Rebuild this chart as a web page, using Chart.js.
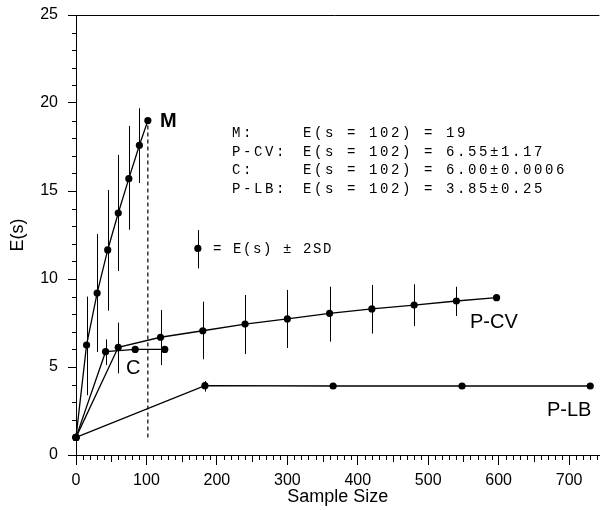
<!DOCTYPE html>
<html><head><meta charset="utf-8">
<script src="https://cdn.jsdelivr.net/npm/chart.js@4.4.1/dist/chart.umd.min.js"></script>
<style>html,body{margin:0;padding:0;background:#fff;}#wrap{width:603px;height:510px;}</style>
</head><body><div id="wrap"><canvas id="c" width="603" height="510"></canvas></div>
<script>
// ---- data ----
const mX  = [0, 15, 30, 45, 60, 75, 90, 102];
const mY  = [1, 6.25, 9.2, 11.65, 13.75, 15.7, 17.6, 19];
const mLo = [null, 3.4, 5.85, 8.2, 10.45, 12.8, 15.45, null];
const mHi = [null, 9.0, 12.55, 15.06, 17.05, 18.7, 19.7, null];

const pcvX  = [0, 60, 120, 180, 240, 300, 360, 420, 480, 540, 597];
const pcvY  = [1, 6.12, 6.69, 7.06, 7.44, 7.73, 8.05, 8.3, 8.52, 8.75, 8.94];
const pcvLo = [null, 4.64, 5.11, 5.44, 5.74, 6.08, 6.44, 6.9, 7.33, 7.9, null];
const pcvHi = [null, 7.52, 8.24, 8.71, 9.09, 9.38, 9.56, 9.66, 9.7, 9.56, null];

const cX  = [0, 42, 84, 126];
const cY  = [1, 5.87, 6.0, 6.0];
const cLo = [null, 5.11, null, null];
const cHi = [null, 6.57, null, null];

const plbX  = [0, 183, 365, 548, 730];
const plbY  = [1, 3.94, 3.92, 3.92, 3.92];
const plbLo = [null, 3.6, null, null, null];
const plbHi = [null, 4.2, null, null, null];

// legend sample (E(s) ± 2SD)
const keyX = [173], keyY = [11.74], keyLo = [10.6], keyHi = [12.78];

const xTicks = [0, 100, 200, 300, 400, 500, 600, 700];
const yTicks = [0, 5, 10, 15, 20, 25];

const summaryNames = ['M:', 'P-CV:', 'C:', 'P-LB:'];
const summaryTexts = ['E(s = 102) = 19', 'E(s = 102) = 6.55\u00b11.17', 'E(s = 102) = 6.00\u00b10.0006', 'E(s = 102) = 3.85\u00b10.25'];
const keyText = '= E(s) \u00b1 2SD';

// ---- helpers ----
const pts = (xs, ys) => xs.map((x, i) => ({x, y: ys[i]}));
const serie = (xs, ys, lo, hi, showLine) => ({
  data: pts(xs, ys), lo, hi,
  borderColor: '#000', backgroundColor: '#000', borderWidth: 1.3,
  pointRadius: 3.6, pointHoverRadius: 3.6, pointBorderWidth: 0,
  showLine, tension: 0, clip: false
});

const PLB = 'Liberation Sans, Arial, sans-serif';
const MONO = 'Liberation Mono, Courier New, monospace';

function monoText(ctx, s, x, y, pitch) {
  for (let i = 0; i < s.length; i++) ctx.fillText(s[i], x + i * pitch, y);
}

const extras = {
  id: 'extras',
  afterDatasetsDraw(chart) {
    const {ctx, chartArea: a, scales: {x, y}} = chart;
    ctx.save();
    ctx.strokeStyle = '#000'; ctx.lineWidth = 1;
    // error bars
    chart.data.datasets.forEach(ds => {
      if (!ds.lo) return;
      ds.data.forEach((p, i) => {
        if (ds.lo[i] == null) return;
        const px = Math.round(x.getPixelForValue(p.x)) + 0.5;
        ctx.beginPath();
        ctx.moveTo(px, y.getPixelForValue(ds.lo[i]));
        ctx.lineTo(px, y.getPixelForValue(ds.hi[i]));
        ctx.stroke();
      });
    });
    // top frame line
    ctx.beginPath();
    ctx.moveTo(a.left - 6, Math.round(a.top) + 0.5);
    ctx.lineTo(a.right, Math.round(a.top) + 0.5);
    ctx.stroke();
    // minor ticks y
    for (let v = 0; v <= 25; v++) {
      if (v % 5 === 0) continue;
      const py = Math.round(y.getPixelForValue(v)) + 0.5;
      ctx.beginPath(); ctx.moveTo(a.left - 4, py); ctx.lineTo(a.left, py); ctx.stroke();
    }
    // minor ticks x
    for (let v = 10; v < x.max; v += 10) {
      if (v % 100 === 0) continue;
      const px = Math.round(x.getPixelForValue(v)) + 0.5;
      const len = v % 50 === 0 ? 7 : 5;
      ctx.beginPath(); ctx.moveTo(px, a.bottom); ctx.lineTo(px, a.bottom + len); ctx.stroke();
    }
    // series labels
    ctx.fillStyle = '#000';
    ctx.textBaseline = 'middle'; ctx.textAlign = 'left';
    ctx.font = 'bold 20px ' + PLB;
    ctx.fillText('M', 160, 121);
    ctx.font = '20px ' + PLB;
    ctx.fillText('P-CV', 470, 322);
    ctx.fillText('C', 126, 368);
    ctx.fillText('P-LB', 547, 410);
    // summary block
    ctx.font = '14px ' + MONO;
    const rows = [133, 152, 170, 189];
    summaryNames.forEach((n, i) => monoText(ctx, n, 232, rows[i], 11));
    summaryTexts.forEach((t, i) => monoText(ctx, t, 303, rows[i], 11));
    monoText(ctx, keyText, 213, 249, 10);
    ctx.restore();
  }
};

new Chart(document.getElementById('c'), {
  type: 'line',
  data: {
    datasets: [
      serie(mX, mY, mLo, mHi, true),
      serie(pcvX, pcvY, pcvLo, pcvHi, true),
      serie(cX, cY, cLo, cHi, true),
      serie(plbX, plbY, plbLo, plbHi, true),
      serie(keyX, keyY, keyLo, keyHi, false),
      {
        data: [{x: mX[mX.length - 1], y: mY[0]}, {x: mX[mX.length - 1], y: mY[mY.length - 1]}],
        borderColor: '#000', borderWidth: 1.2, borderDash: [4, 3], pointRadius: 0, tension: 0, clip: false
      }
    ]
  },
  options: {
    responsive: false, animation: false, devicePixelRatio: 1,
    layout: {padding: {top: 15, right: 1, left: 0, bottom: 0}},
    plugins: {legend: {display: false}, tooltip: {enabled: false}},
    scales: {
      x: {
        type: 'linear', min: 0, max: 743,
        afterFit(s) { s.height = 55; s.paddingLeft = 0; s.paddingRight = 0; },
        afterBuildTicks(s) { s.ticks = xTicks.map(v => ({value: v})); },
        ticks: {font: {family: PLB, size: 16}, color: '#000', padding: 6, maxRotation: 0},
        grid: {drawOnChartArea: false, drawTicks: true, tickLength: 10, color: '#000', lineWidth: 1},
        border: {display: true, color: '#000', width: 1},
        title: {display: true, text: 'Sample Size', font: {family: PLB, size: 18}, color: '#000', padding: {top: 0, bottom: 2}}
      },
      y: {
        type: 'linear', min: 0, max: 25,
        afterFit(s) { s.width = 76; s.paddingTop = 0; s.paddingBottom = 0; },
        afterBuildTicks(s) { s.ticks = yTicks.map(v => ({value: v})); },
        ticks: {font: {family: PLB, size: 16}, color: '#000', padding: 10},
        grid: {drawOnChartArea: false, drawTicks: true, tickLength: 8, color: '#000', lineWidth: 1},
        border: {display: true, color: '#000', width: 1},
        title: {display: true, text: 'E(s)', font: {family: PLB, size: 18}, color: '#000', padding: {top: 7, bottom: 0}}
      }
    }
  },
  plugins: [extras]
});
</script></body></html>
